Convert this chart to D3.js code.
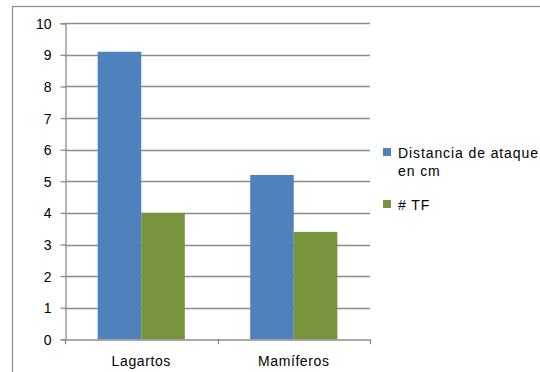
<!DOCTYPE html>
<html>
<head>
<meta charset="utf-8">
<script src="https://cdn.jsdelivr.net/npm/d3@7"></script>
<style>
  body { margin: 0; background: #fff; }
  svg text { font-family: "Liberation Sans", "DejaVu Sans", sans-serif; fill: #000; }
</style>
</head>
<body>
<div id="chart"></div>
<script>
const categories = ["Lagartos", "Mamíferos"];
const seriesNames = ["Distancia de ataque en cm", "# TF"];
const distancia = [9.1, 5.2];
const tf = [4.0, 3.4];
const yTicks = [0, 1, 2, 3, 4, 5, 6, 7, 8, 9, 10];

const width = 540;
const height = 372;
const plot = { left: 65, right: 370, top: 23.3, bottom: 339.3 };
const colors = ["#4f81bd", "#77933c"];
const gridColor = "#8c8c8c";

const svg = d3.select("#chart").append("svg")
  .attr("width", width)
  .attr("height", height);

// outer chart border (runs off the right and bottom edge)
svg.append("rect")
  .attr("x", 12.5).attr("y", 6.5)
  .attr("width", 600).attr("height", 400)
  .attr("fill", "#fff")
  .attr("stroke", gridColor)
  .attr("stroke-width", 1.2);

const x = d3.scaleBand()
  .domain(categories)
  .range([plot.left, plot.right])
  .paddingInner(0)
  .paddingOuter(0);

const xSeries = d3.scaleBand()
  .domain(seriesNames)
  .range([0, x.bandwidth()])
  .paddingInner(0)
  .paddingOuter(0.75);

const y = d3.scaleLinear()
  .domain([0, 10])
  .range([plot.bottom, plot.top]);

// gridlines
svg.append("g")
  .selectAll("line")
  .data(yTicks.filter((d) => d > 0))
  .enter()
  .append("line")
  .attr("x1", plot.left)
  .attr("x2", plot.right)
  .attr("y1", (d) => Math.round(y(d)) + 0.5)
  .attr("y2", (d) => Math.round(y(d)) + 0.5)
  .attr("stroke", gridColor)
  .attr("stroke-width", 1.3);

// bars
const rows = categories.map((c, i) => [
  { cat: c, s: seriesNames[0], v: distancia[i] },
  { cat: c, s: seriesNames[1], v: tf[i] },
]).flat();

svg.append("g")
  .selectAll("rect")
  .data(rows)
  .enter()
  .append("rect")
  .attr("x", (d) => x(d.cat) + xSeries(d.s))
  .attr("y", (d) => y(d.v))
  .attr("width", xSeries.bandwidth())
  .attr("height", (d) => y(0) - y(d.v))
  .attr("fill", (d) => colors[seriesNames.indexOf(d.s)]);

// y axis
const yAxis = svg.append("g")
  .attr("transform", `translate(${plot.left + 0.5},0)`)
  .call(d3.axisLeft(y).tickValues(yTicks).tickSize(5).tickPadding(9));
yAxis.selectAll("line").attr("stroke", gridColor).attr("stroke-width", 1.3);
yAxis.select(".domain").attr("stroke", gridColor).attr("stroke-width", 1.3);
yAxis.selectAll("text").style("font-size", "14px").attr("dy", "0.36em");

// x axis
const xAxis = svg.append("g")
  .attr("transform", `translate(0,${Math.round(plot.bottom) + 0.5})`)
  .call(d3.axisBottom(x).tickSize(0).tickPadding(17));
xAxis.select(".domain").attr("stroke", gridColor).attr("stroke-width", 1.3);
xAxis.selectAll("text").style("font-size", "14px").style("letter-spacing", "0.6px");

svg.append("g")
  .selectAll("line")
  .data(categories.map((c) => x(c)).concat([plot.right]))
  .enter()
  .append("line")
  .attr("x1", (d) => Math.round(d) + 0.5)
  .attr("x2", (d) => Math.round(d) + 0.5)
  .attr("y1", plot.bottom)
  .attr("y2", plot.bottom + 5)
  .attr("stroke", gridColor)
  .attr("stroke-width", 1.3);

// legend
const legend = svg.append("g").attr("transform", "translate(383,0)");
const legendItems = [
  { color: colors[0], lines: ["Distancia de ataque", "en cm"], y: 148 },
  { color: colors[1], lines: ["# TF"], y: 200 },
];
legendItems.forEach((item) => {
  legend.append("rect")
    .attr("x", 0).attr("y", item.y)
    .attr("width", 8).attr("height", 8)
    .attr("fill", item.color);
  item.lines.forEach((t, i) => {
    legend.append("text")
      .attr("x", 15)
      .attr("y", item.y + 10 + i * 18)
      .style("font-size", "14px")
      .style("letter-spacing", "0.9px")
      .text(t);
  });
});
</script>
</body>
</html>
